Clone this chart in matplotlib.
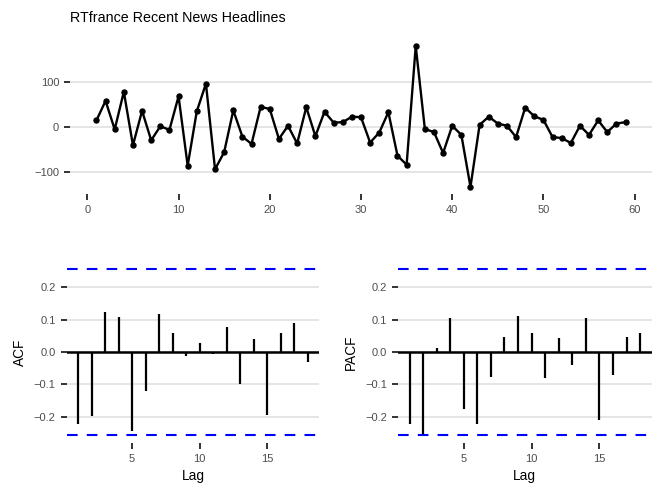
import matplotlib
matplotlib.use("Agg")
import matplotlib.pyplot as plt
import numpy as np

plt.rcParams['font.family'] = ['Liberation Sans', 'DejaVu Sans']

title = "RTfrance Recent News Headlines"
series = [15, 58, -5, 78, -40, 36, -29, 2, -6, 68,
          -85, 35, 96, -93, -55, 37, -21, -37, 45, 40,
          -26, 3, -36, 44, -20, 34, 10, 11, 23, 22,
          -34, -12, 33, -63, -83, 179, -4, -11, -57, 3,
          -17, -132, 5, 23, 8, 3, -22, 43, 24, 16,
          -22, -24, -35, 3, -17, 15, -11, 8, 11]
acf_vals = [-0.222, -0.198, 0.124, 0.107, -0.243, -0.121, 0.118, 0.060, -0.013,
            0.029, -0.007, 0.078, -0.098, 0.041, -0.194, 0.059, 0.090, -0.031]
pacf_vals = [-0.222, -0.254, 0.013, 0.106, -0.176, -0.222, -0.078, 0.045, 0.110,
             0.058, -0.080, 0.043, -0.039, 0.105, -0.209, -0.070, 0.046, 0.058]
top_xticks = [0, 10, 20, 30, 40, 50, 60]
top_yticks = [-100, 0, 100]
cf_yticks = [-0.2, -0.1, 0.0, 0.1, 0.2]
cf_xticks = [5, 10, 15]

W, H = 664, 498
fig = plt.figure(figsize=(W / 100, H / 100), dpi=100)

grid_c = '#DEDEDE'
tick_c = '#333333'
lab_c = '#4D4D4D'


def style(ax):
    for s in ax.spines.values():
        s.set_visible(False)
    ax.tick_params(axis='both', length=4.3, width=1.4, color=tick_c,
                   labelcolor=lab_c, labelsize=8, pad=3.5)
    ax.yaxis.grid(True, color=grid_c, lw=1.1)
    ax.xaxis.grid(False)
    ax.set_axisbelow(True)


def fr(l, t, r, b):
    return [l / W, 1 - b / H, (r - l) / W, (b - t) / H]


# top series panel
ax0 = fig.add_axes(fr(70, 39, 652, 194))
t = np.arange(1, len(series) + 1)
ax0.plot(t, series, color='black', lw=1.7, marker='o', ms=3.6, zorder=3)
n = len(series)
ax0.set_xlim(1 - 0.05 * (n - 1), n + 0.05 * (n - 1))
lo, hi = min(series), max(series)
ax0.set_ylim(lo - 0.05 * (hi - lo), hi + 0.05 * (hi - lo))
ax0.set_xticks(top_xticks)
ax0.set_yticks(top_yticks)
ax0.set_yticklabels(['\u2212100', '0', '100'])
style(ax0)
fig.text(70 / W, 1 - 18 / H, title, fontsize=10.3, color='black', va='center', ha='left')

ci = 1.96 / np.sqrt(n)


def cf_panel(box, vals, ylabel):
    ax = fig.add_axes(box)
    lags = np.arange(1, len(vals) + 1)
    ax.vlines(lags, 0, vals, color='black', lw=1.6, zorder=3)
    ax.axhline(0, color='black', lw=1.8, zorder=2)
    ax.axhline(ci, color='#0000FF', lw=1.5, dashes=(5.1, 4.4), zorder=2)
    ax.axhline(-ci, color='#0000FF', lw=1.5, dashes=(5.1, 4.4), zorder=2)
    m = len(vals)
    ax.set_xlim(1 - 0.05 * (m - 1), m + 0.05 * (m - 1))
    ymax = max(ci, max(abs(v) for v in vals))
    ax.set_ylim(-ymax * 1.1, ymax * 1.1)
    ax.set_xticks(cf_xticks)
    ax.set_yticks(cf_yticks)
    ax.set_yticklabels(['\u22120.2', '\u22120.1', '0.0', '0.1', '0.2'])
    style(ax)
    ax.set_xlabel('Lag', fontsize=9.8, labelpad=4)
    ax.set_ylabel(ylabel, fontsize=9.8, labelpad=5)
    return ax


ax1 = cf_panel(fr(66.5, 261, 319.4, 443), acf_vals, 'ACF')
ax2 = cf_panel(fr(398, 261, 651.6, 443), pacf_vals, 'PACF')

fig.savefig('out.png', dpi=100)
